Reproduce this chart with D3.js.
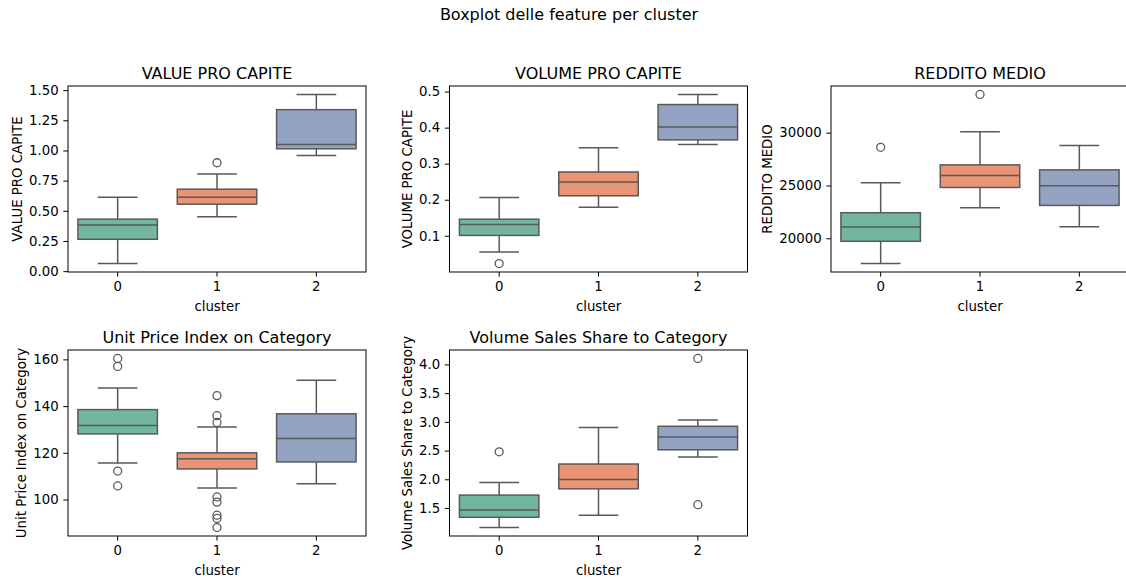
<!DOCTYPE html>
<html>
<head>
<meta charset="utf-8">
<script src="https://cdn.jsdelivr.net/npm/d3@7"></script>
<style>
  html, body { margin: 0; padding: 0; background: #fff; }
  svg { display: block; font-family: "DejaVu Sans", sans-serif; }
</style>
</head>
<body>
<svg id="chart" width="1126" height="579"></svg>
<script>
// Cluster labels on the x axis
const clusters = ["0", "1", "2"];

// Box statistics per cluster: [lower whisker, Q1, median, Q3, upper whisker]
const valueProCapite = [
  [0.063, 0.264, 0.382, 0.431, 0.613],
  [0.451, 0.555, 0.613, 0.679, 0.805],
  [0.959, 1.014, 1.049, 1.338, 1.464]
];
const valueProCapiteOut = [[], [0.898], []];

const volumeProCapite = [
  [0.055, 0.101, 0.131, 0.146, 0.206],
  [0.179, 0.211, 0.2495, 0.277, 0.344],
  [0.353, 0.366, 0.402, 0.464, 0.492]
];
const volumeProCapiteOut = [[0.023], [], []];

const redditoMedio = [
  [17610, 19717, 21069, 22421, 25252],
  [22893, 24811, 25943, 26950, 30094],
  [21101, 23113, 24969, 26478, 28774]
];
const redditoMedioOut = [[28616], [33616], []];

const unitPriceIndex = [
  [115.6, 128.1, 131.7, 138.5, 147.7],
  [104.9, 113.1, 117.5, 120.0, 131.1],
  [106.7, 116.1, 126.1, 136.7, 151.1]
];
const unitPriceIndexOut = [
  [160.4, 157.0, 112.2, 105.8],
  [144.5, 135.9, 133.0, 101.1, 98.9, 93.3, 91.9, 88.0],
  []
];

const volumeSalesShare = [
  [1.160, 1.339, 1.465, 1.725, 1.944],
  [1.373, 1.834, 1.995, 2.266, 2.900],
  [2.387, 2.514, 2.738, 2.923, 3.032]
];
const volumeSalesShareOut = [[2.479], [], [4.104, 1.558]];

// Tick values for each panel's y axis
const ticksValue = [0, 0.25, 0.5, 0.75, 1.0, 1.25, 1.5];
const ticksVolume = [0.1, 0.2, 0.3, 0.4, 0.5];
const ticksReddito = [20000, 25000, 30000];
const ticksUnitPrice = [100, 120, 140, 160];
const ticksShare = [1.5, 2.0, 2.5, 3.0, 3.5, 4.0];

const panels = [
  { title: "VALUE PRO CAPITE", stats: valueProCapite, out: valueProCapiteOut, ticks: ticksValue, fmt: d3.format(".2f"), row: 0, col: 0 },
  { title: "VOLUME PRO CAPITE", stats: volumeProCapite, out: volumeProCapiteOut, ticks: ticksVolume, fmt: d3.format(".1f"), row: 0, col: 1 },
  { title: "REDDITO MEDIO", stats: redditoMedio, out: redditoMedioOut, ticks: ticksReddito, fmt: d3.format("d"), row: 0, col: 2 },
  { title: "Unit Price Index on Category", stats: unitPriceIndex, out: unitPriceIndexOut, ticks: ticksUnitPrice, fmt: d3.format("d"), row: 1, col: 0 },
  { title: "Volume Sales Share to Category", stats: volumeSalesShare, out: volumeSalesShareOut, ticks: ticksShare, fmt: d3.format(".1f"), row: 1, col: 1 }
];

// Desaturated Set2 fills and the shared line colour
const fills = ["#72b6a0", "#e99575", "#95a3c3"];
const lineColor = "#595959";

const svg = d3.select("#chart");
svg.append("rect").attr("width", 1126).attr("height", 579).attr("fill", "#fff");

const colLeft = [68, 449.5, 831];
const rowTop = [86, 350];
const pw = 298, ph = 186;
const tickLen = 4.67, tickPad = 4.67;
const tickFont = 13.3, titleFont = 16;

svg.append("text")
  .attr("x", 569).attr("y", 19.5)
  .attr("text-anchor", "middle")
  .attr("font-size", titleFont)
  .attr("fill", "#000")
  .text("Boxplot delle feature per cluster");

panels.forEach(p => {
  const g = svg.append("g")
    .attr("transform", `translate(${colLeft[p.col]},${rowTop[p.row]})`);

  // y domain from whiskers and outliers with 5% margins
  const all = p.stats.flat().concat(p.out.flat());
  const lo = d3.min(all), hi = d3.max(all);
  const m = (hi - lo) * 0.05;
  const y = d3.scaleLinear().domain([lo - m, hi + m]).range([ph, 0]);
  const x = d3.scaleBand().domain(clusters).range([0, pw]).padding(0);
  const bw = x.bandwidth() * 0.8;
  const capW = bw / 2;

  // boxes, whiskers, medians and outliers
  clusters.forEach((c, i) => {
    const s = p.stats[i];
    const cx = x(c) + x.bandwidth() / 2;
    const bg = g.append("g")
      .attr("stroke", lineColor).attr("stroke-width", 1.5);
    bg.append("line").attr("x1", cx).attr("x2", cx).attr("y1", y(s[1])).attr("y2", y(s[0]));
    bg.append("line").attr("x1", cx).attr("x2", cx).attr("y1", y(s[3])).attr("y2", y(s[4]));
    bg.append("line").attr("x1", cx - capW / 2).attr("x2", cx + capW / 2).attr("y1", y(s[0])).attr("y2", y(s[0]));
    bg.append("line").attr("x1", cx - capW / 2).attr("x2", cx + capW / 2).attr("y1", y(s[4])).attr("y2", y(s[4]));
    bg.append("rect")
      .attr("x", cx - bw / 2).attr("width", bw)
      .attr("y", y(s[3])).attr("height", y(s[1]) - y(s[3]))
      .attr("fill", fills[i]);
    bg.append("line").attr("x1", cx - bw / 2).attr("x2", cx + bw / 2).attr("y1", y(s[2])).attr("y2", y(s[2]));
    bg.selectAll("circle").data(p.out[i]).join("circle")
      .attr("cx", cx).attr("cy", d => y(d)).attr("r", 4)
      .attr("fill", "none").attr("stroke-width", 1.3);
  });

  // frame
  g.append("rect").attr("width", pw).attr("height", ph)
    .attr("fill", "none").attr("stroke", "#000").attr("stroke-width", 1);

  // y axis
  const yAxis = g.append("g")
    .call(d3.axisLeft(y).tickValues(p.ticks).tickFormat(p.fmt).tickSize(tickLen).tickPadding(tickPad));
  yAxis.select(".domain").remove();
  yAxis.selectAll("text").attr("font-size", tickFont).attr("font-family", "DejaVu Sans").attr("fill", "#000");
  yAxis.selectAll("line").attr("stroke", "#000");

  // x axis
  const xAxis = g.append("g").attr("transform", `translate(0,${ph})`)
    .call(d3.axisBottom(x).tickSize(tickLen).tickPadding(tickPad));
  xAxis.select(".domain").remove();
  xAxis.selectAll("text").attr("font-size", tickFont).attr("font-family", "DejaVu Sans").attr("fill", "#000");
  xAxis.selectAll("line").attr("stroke", "#000");

  // axis titles
  let maxW = 0;
  yAxis.selectAll("text").each(function () { maxW = Math.max(maxW, this.getComputedTextLength()); });
  g.append("text")
    .attr("transform", `translate(${-(tickLen + tickPad + maxW + 7.1)},${ph / 2}) rotate(-90)`)
    .attr("text-anchor", "middle")
    .attr("font-size", tickFont).attr("fill", "#000")
    .text(p.title);
  g.append("text")
    .attr("x", pw / 2).attr("y", ph + 38.5)
    .attr("text-anchor", "middle")
    .attr("font-size", tickFont).attr("fill", "#000")
    .text("cluster");

  // panel title
  g.append("text")
    .attr("x", pw / 2).attr("y", -7.5)
    .attr("text-anchor", "middle")
    .attr("font-size", titleFont).attr("fill", "#000")
    .text(p.title);
});
</script>
</body>
</html>
